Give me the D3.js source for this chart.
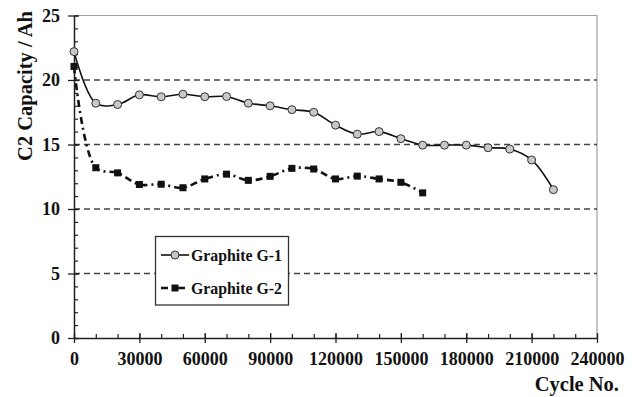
<!DOCTYPE html>
<html>
<head>
<meta charset="utf-8">
<script src="https://cdn.jsdelivr.net/npm/d3@7"></script>
<style>
body { margin: 0; background: #fff; }
svg text { font-family: "Liberation Serif", "Times New Roman", serif; font-weight: bold; fill: #111; }
</style>
</head>
<body>
<svg class="canvas"></svg>
<script>
const width = 634;
const height = 397;
const margin = { top: 15.5, right: 37, bottom: 59, left: 74 };

// cycle numbers
const cyclesG1 = [0, 10000, 20000, 30000, 40000, 50000, 60000, 70000, 80000, 90000, 100000, 110000,
	120000, 130000, 140000, 150000, 160000, 170000, 180000, 190000, 200000, 210000, 220000];
const capG1 = [22.2, 18.2, 18.1, 18.85, 18.7, 18.9, 18.7, 18.72, 18.2, 18.0, 17.7, 17.5,
	16.5, 15.8, 16.0, 15.45, 14.95, 14.95, 14.95, 14.75, 14.65, 13.8, 11.5];

const cyclesG2 = [0, 10000, 20000, 30000, 40000, 50000, 60000, 70000, 80000, 90000, 100000, 110000,
	120000, 130000, 140000, 150000, 160000];
const capG2 = [21.05, 13.2, 12.8, 11.9, 11.92, 11.65, 12.33, 12.7, 12.22, 12.53, 13.15, 13.1,
	12.33, 12.55, 12.33, 12.07, 11.25];

const xTicks = [0, 30000, 60000, 90000, 120000, 150000, 180000, 210000, 240000];
const yTicks = [0, 5, 10, 15, 20, 25];
const gridValues = [5, 10, 15, 20];
const seriesNames = ["Graphite G-1", "Graphite G-2"];

const svg = d3.select(".canvas")
	.attr("width", width)
	.attr("height", height);

const x = d3.scaleLinear().domain([0, 240000]).range([margin.left, width - margin.right]);
const y = d3.scaleLinear().domain([0, 25]).range([height - margin.bottom, margin.top]);

// frame (top & right light gray)
svg.append("path")
	.attr("d", `M${x(0)},${y(25)}H${x(240000)}V${y(0)}`)
	.attr("fill", "none")
	.attr("stroke", "#a0a0a0")
	.attr("stroke-width", 1.2);

// dashed gridlines
svg.selectAll(".grid")
	.data(gridValues)
	.join("line")
	.attr("class", "grid")
	.attr("x1", x(0))
	.attr("x2", x(240000))
	.attr("y1", d => y(d))
	.attr("y2", d => y(d))
	.attr("stroke", "#444")
	.attr("stroke-width", 1.3)
	.attr("stroke-dasharray", "6,4");

// minor ticks
const xMinor = d3.range(0, 240001, 10000);
const yMinor = d3.range(0, 26, 1);

svg.append("g")
	.attr("transform", `translate(0,${y(0)})`)
	.call(d3.axisBottom(x).tickValues(xMinor).tickSize(-4).tickFormat(""))
	.call(g => g.select(".domain").remove())
	.selectAll("line").attr("stroke", "#222").attr("stroke-width", 1.2);

svg.append("g")
	.attr("transform", `translate(${x(0)},0)`)
	.call(d3.axisLeft(y).tickValues(yMinor).tickSize(-4).tickFormat(""))
	.call(g => g.select(".domain").remove())
	.selectAll("line").attr("stroke", "#222").attr("stroke-width", 1.2);

// major axes
const xAxis = svg.append("g")
	.attr("transform", `translate(0,${y(0)})`)
	.call(d3.axisBottom(x).tickValues(xTicks).tickSizeInner(4).tickSizeOuter(0).tickPadding(10).tickFormat(d3.format("d")));
xAxis.select(".domain").attr("stroke", "#222").attr("stroke-width", 1.5);
xAxis.selectAll(".tick line").attr("y1", -5).attr("y2", 5).attr("stroke", "#222").attr("stroke-width", 1.3);
xAxis.selectAll("text").style("font-size", "18px").attr("fill", "#111");

const yAxis = svg.append("g")
	.attr("transform", `translate(${x(0)},0)`)
	.call(d3.axisLeft(y).tickValues(yTicks).tickSizeInner(4).tickSizeOuter(0).tickPadding(10));
yAxis.select(".domain").attr("stroke", "#222").attr("stroke-width", 1.5);
yAxis.selectAll(".tick line").attr("x1", -6).attr("x2", 5).attr("stroke", "#222").attr("stroke-width", 1.3);
yAxis.selectAll("text").style("font-size", "18px").attr("fill", "#111");

// axis titles
svg.append("text")
	.attr("transform", `translate(32,86) rotate(-90)`)
	.attr("text-anchor", "middle")
	.style("font-size", "20.5px")
	.text("C2 Capacity / Ah");

svg.append("text")
	.attr("x", 619)
	.attr("y", 391)
	.attr("text-anchor", "end")
	.style("font-size", "20.5px")
	.text("Cycle No.");

// series
const g1 = cyclesG1.map((c, i) => [c, capG1[i]]);
const g2 = cyclesG2.map((c, i) => [c, capG2[i]]);

const line = d3.line()
	.x(d => x(d[0]))
	.y(d => y(d[1]))
	.curve(d3.curveCatmullRom.alpha(0.5));

svg.append("path")
	.datum(g1)
	.attr("d", line)
	.attr("fill", "none")
	.attr("stroke", "#111")
	.attr("stroke-width", 1.6);

svg.append("path")
	.datum(g2)
	.attr("d", line)
	.attr("fill", "none")
	.attr("stroke", "#111")
	.attr("stroke-width", 2.6)
	.attr("stroke-dasharray", "7,4,2,4");

svg.selectAll(".ptG1")
	.data(g1)
	.join("circle")
	.attr("class", "ptG1")
	.attr("cx", d => x(d[0]))
	.attr("cy", d => y(d[1]))
	.attr("r", 4)
	.attr("fill", "#c8c8c8")
	.attr("stroke", "#333")
	.attr("stroke-width", 1);

svg.selectAll(".ptG2")
	.data(g2)
	.join("rect")
	.attr("class", "ptG2")
	.attr("x", d => x(d[0]) - 3.5)
	.attr("y", d => y(d[1]) - 3.5)
	.attr("width", 7)
	.attr("height", 7)
	.attr("fill", "#111");

// legend
const legend = svg.append("g");
legend.append("rect")
	.attr("x", 155.5)
	.attr("y", 236.5)
	.attr("width", 133)
	.attr("height", 68.5)
	.attr("fill", "#fff")
	.attr("stroke", "#333")
	.attr("stroke-width", 1.3);

legend.append("line")
	.attr("x1", 161).attr("x2", 189)
	.attr("y1", 255).attr("y2", 255)
	.attr("stroke", "#111").attr("stroke-width", 1.6);
legend.append("circle")
	.attr("cx", 175).attr("cy", 255).attr("r", 4)
	.attr("fill", "#c8c8c8").attr("stroke", "#333");
legend.append("text")
	.attr("x", 191).attr("y", 260.5)
	.style("font-size", "15.8px")
	.text(seriesNames[0]);

legend.append("line")
	.attr("x1", 161).attr("x2", 189)
	.attr("y1", 288).attr("y2", 288)
	.attr("stroke", "#111").attr("stroke-width", 2.6)
	.attr("stroke-dasharray", "7,4,2,4");
legend.append("rect")
	.attr("x", 171.5).attr("y", 284.5).attr("width", 7).attr("height", 7)
	.attr("fill", "#111");
legend.append("text")
	.attr("x", 191).attr("y", 293.5)
	.style("font-size", "15.8px")
	.text(seriesNames[1]);
</script>
</body>
</html>
